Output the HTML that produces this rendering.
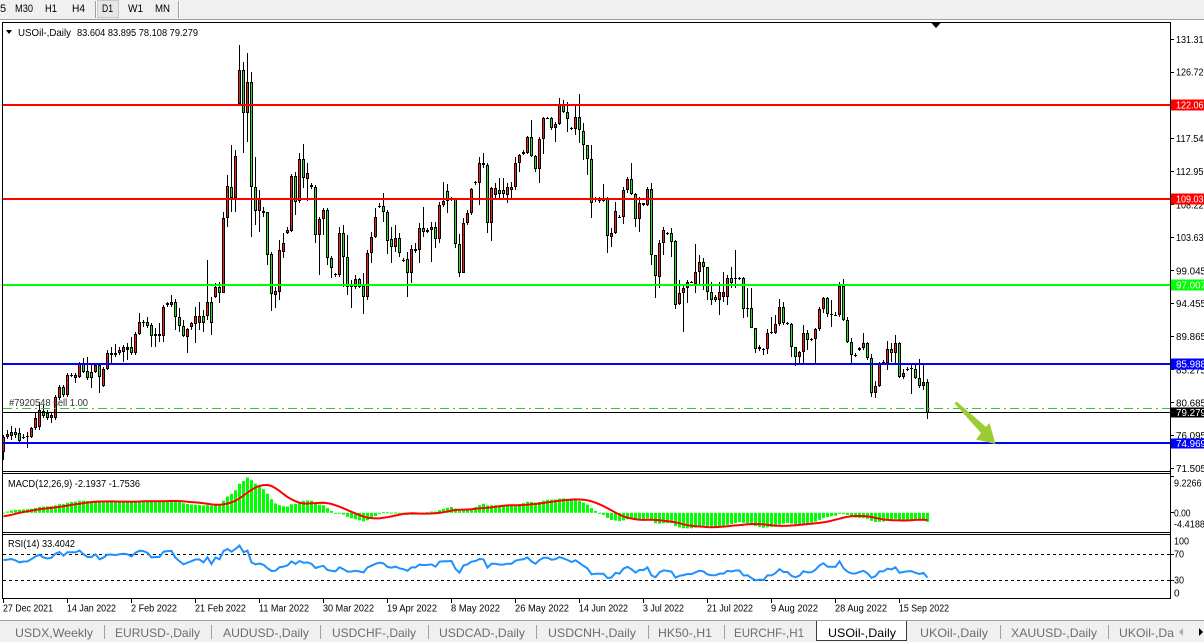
<!DOCTYPE html>
<html><head><meta charset="utf-8"><style>
html,body{margin:0;padding:0;background:#fff;}
body{width:1204px;height:642px;overflow:hidden;}
svg{display:block;font-family:"Liberation Sans",Arial,sans-serif;}
</style></head><body>
<svg id="s" width="1204" height="642" viewBox="0 0 1204 642" xmlns="http://www.w3.org/2000/svg">
<defs>
<clipPath id="cm"><rect x="3" y="474" width="1167" height="58"/></clipPath>
<clipPath id="cr"><rect x="3" y="535" width="1167" height="63"/></clipPath>
</defs>
<rect width="1204" height="642" fill="#fff"/>
<!-- toolbar -->
<rect x="0" y="0" width="1204" height="19" fill="#f0f0f0"/>
<line x1="0" y1="19.5" x2="1204" y2="19.5" stroke="#a0a0a0"/>
<line x1="95.5" y1="1" x2="95.5" y2="18" stroke="#a0a0a0"/>
<line x1="96.5" y1="1" x2="96.5" y2="18" stroke="#fff"/>
<line x1="178.5" y1="1" x2="178.5" y2="18" stroke="#a0a0a0"/>
<line x1="179.5" y1="1" x2="179.5" y2="18" stroke="#fff"/>
<rect x="97.5" y="0.5" width="21" height="17" fill="#e6e6e6" stroke="#c8c8c8"/>
<g font-size="11" fill="#000">
<text x="0" y="12">5</text>
<text x="15" y="12" textLength="18" lengthAdjust="spacingAndGlyphs">M30</text>
<text x="45" y="12" textLength="12" lengthAdjust="spacingAndGlyphs">H1</text>
<text x="72" y="12" textLength="13" lengthAdjust="spacingAndGlyphs">H4</text>
<text x="102" y="12" textLength="11" lengthAdjust="spacingAndGlyphs">D1</text>
<text x="128" y="12" textLength="15" lengthAdjust="spacingAndGlyphs">W1</text>
<text x="155" y="12" textLength="15" lengthAdjust="spacingAndGlyphs">MN</text>
</g>

<!-- frames -->
<g stroke="#000" stroke-width="1" shape-rendering="crispEdges">
<line x1="2" y1="22.5" x2="1170" y2="22.5"/>
<line x1="2.5" y1="22" x2="2.5" y2="599"/>
<line x1="1170.5" y1="22" x2="1170.5" y2="599"/>
<line x1="2" y1="471.5" x2="1170" y2="471.5"/>
<line x1="2" y1="473.5" x2="1170" y2="473.5"/>
<line x1="2" y1="532.5" x2="1170" y2="532.5"/>
<line x1="2" y1="534.5" x2="1170" y2="534.5"/>
<line x1="2" y1="598.5" x2="1171" y2="598.5"/>
</g>

<!-- candles -->
<g id="candles" shape-rendering="crispEdges"></g>

<!-- level lines -->
<g shape-rendering="crispEdges">
<rect x="3" y="104" width="1167" height="2" fill="#ff0000"/>
<rect x="3" y="198" width="1167" height="2" fill="#ff0000"/>
<rect x="3" y="284" width="1167" height="2" fill="#00ff00"/>
<rect x="3" y="363" width="1167" height="2" fill="#0000ff"/>
<rect x="3" y="442" width="1167" height="2" fill="#0000ff"/>
<rect x="3" y="412" width="1167" height="1" fill="#000"/>
<line x1="3" y1="408.5" x2="1170" y2="408.5" stroke="#2ecc2e" stroke-width="1" stroke-dasharray="9,4,2,4"/>
</g>
<text x="9" y="406" font-size="10" fill="#333" textLength="79" lengthAdjust="spacingAndGlyphs">#7920548 sell 1.00</text>

<!-- arrow -->
<polygon points="954.5,403.5 956.5,401.5 986,427 989.5,423 995.5,444 976,439.5 981,433" fill="#9acd32"/>

<!-- chart shift marker -->
<polygon points="930.5,22 941.5,22 936,28" fill="#000"/>

<!-- header -->
<polygon points="6,30 12,30 9,34" fill="#000"/>
<text x="18" y="36" font-size="10" fill="#000" textLength="53" lengthAdjust="spacingAndGlyphs">USOil-,Daily</text>
<text x="77" y="36" font-size="10" fill="#000" textLength="121" lengthAdjust="spacingAndGlyphs">83.604 83.895 78.108 79.279</text>

<!-- MACD / RSI -->
<g id="macd" clip-path="url(#cm)"></g>
<g clip-path="url(#cr)">
<line x1="3" y1="554.5" x2="1170" y2="554.5" stroke="#000" stroke-dasharray="3,3"/>
<line x1="3" y1="580.5" x2="1170" y2="580.5" stroke="#000" stroke-dasharray="3,3"/>
<g id="rsi"></g>
</g>
<text x="8" y="487" font-size="10" fill="#000" textLength="132" lengthAdjust="spacingAndGlyphs">MACD(12,26,9) -2.1937 -1.7536</text>
<text x="8" y="547" font-size="10" fill="#000" textLength="67" lengthAdjust="spacingAndGlyphs">RSI(14) 33.4042</text>

<!-- right axis ticks -->
<g stroke="#000" shape-rendering="crispEdges">
<line x1="1170" y1="39.5" x2="1174" y2="39.5"/>
<line x1="1170" y1="72.5" x2="1174" y2="72.5"/>
<line x1="1170" y1="105.5" x2="1174" y2="105.5"/>
<line x1="1170" y1="138.5" x2="1174" y2="138.5"/>
<line x1="1170" y1="171.5" x2="1174" y2="171.5"/>
<line x1="1170" y1="204.5" x2="1174" y2="204.5"/>
<line x1="1170" y1="237.5" x2="1174" y2="237.5"/>
<line x1="1170" y1="270.5" x2="1174" y2="270.5"/>
<line x1="1170" y1="303.5" x2="1174" y2="303.5"/>
<line x1="1170" y1="336.5" x2="1174" y2="336.5"/>
<line x1="1170" y1="369.5" x2="1174" y2="369.5"/>
<line x1="1170" y1="402.5" x2="1174" y2="402.5"/>
<line x1="1170" y1="435.5" x2="1174" y2="435.5"/>
<line x1="1170" y1="468.5" x2="1174" y2="468.5"/>
<line x1="1170" y1="476.5" x2="1174" y2="476.5"/>
<line x1="1170" y1="512.5" x2="1174" y2="512.5"/>
<line x1="1170" y1="554.5" x2="1174" y2="554.5"/>
<line x1="1170" y1="580.5" x2="1174" y2="580.5"/>
</g>
<g font-size="10" fill="#000">
<text x="1176" y="43" textLength="27.5" lengthAdjust="spacingAndGlyphs">131.31</text>
<text x="1176" y="75.5" textLength="27.5" lengthAdjust="spacingAndGlyphs">126.72</text>
<text x="1176" y="142" textLength="27.5" lengthAdjust="spacingAndGlyphs">117.54</text>
<text x="1176" y="175" textLength="27.5" lengthAdjust="spacingAndGlyphs">112.95</text>
<text x="1176" y="208.5" textLength="27.5" lengthAdjust="spacingAndGlyphs">108.22</text>
<text x="1176" y="241" textLength="27.5" lengthAdjust="spacingAndGlyphs">103.63</text>
<text x="1176" y="274.5" textLength="30" lengthAdjust="spacingAndGlyphs">99.045</text>
<text x="1176" y="307" textLength="30" lengthAdjust="spacingAndGlyphs">94.455</text>
<text x="1176" y="340" textLength="30" lengthAdjust="spacingAndGlyphs">89.865</text>
<text x="1176" y="373.5" textLength="30" lengthAdjust="spacingAndGlyphs">85.275</text>
<text x="1176" y="406.5" textLength="30" lengthAdjust="spacingAndGlyphs">80.685</text>
<text x="1176" y="439" textLength="30" lengthAdjust="spacingAndGlyphs">76.095</text>
<text x="1176" y="472" textLength="30" lengthAdjust="spacingAndGlyphs">71.505</text>
<text x="1174" y="486.5" textLength="27.5" lengthAdjust="spacingAndGlyphs">9.2266</text>
<text x="1174" y="516.5" textLength="16.5" lengthAdjust="spacingAndGlyphs">0.00</text>
<text x="1174" y="527.5" textLength="31" lengthAdjust="spacingAndGlyphs">-4.4188</text>
<text x="1174" y="544.5" textLength="15" lengthAdjust="spacingAndGlyphs">100</text>
<text x="1174" y="557.5" textLength="10" lengthAdjust="spacingAndGlyphs">70</text>
<text x="1174" y="583.5" textLength="10" lengthAdjust="spacingAndGlyphs">30</text>
<text x="1174" y="596.5">0</text>
</g>
<!-- coloured price labels -->
<g shape-rendering="crispEdges">
<rect x="1171" y="99.5" width="40" height="11" fill="#ff0000"/>
<rect x="1171" y="193.5" width="40" height="11" fill="#ff0000"/>
<rect x="1171" y="279.5" width="40" height="11" fill="#00ff00"/>
<rect x="1171" y="358.5" width="40" height="11" fill="#0000ff"/>
<rect x="1171" y="407.5" width="40" height="10" fill="#000"/>
<rect x="1171" y="438.5" width="40" height="10" fill="#0000ff"/>
</g>
<g font-size="10" fill="#fff">
<text x="1176" y="108.5" textLength="27.5" lengthAdjust="spacingAndGlyphs">122.06</text>
<text x="1176" y="202.5" textLength="27.5" lengthAdjust="spacingAndGlyphs">109.03</text>
<text x="1176" y="288.5" textLength="30" lengthAdjust="spacingAndGlyphs">97.007</text>
<text x="1176" y="367.5" textLength="30" lengthAdjust="spacingAndGlyphs">85.988</text>
<text x="1176" y="416" textLength="30" lengthAdjust="spacingAndGlyphs">79.279</text>
<text x="1176" y="447" textLength="30" lengthAdjust="spacingAndGlyphs">74.969</text>
</g>

<!-- time axis -->
<g stroke="#000" shape-rendering="crispEdges">
<line x1="3.5" y1="599" x2="3.5" y2="603"/>
<line x1="67.5" y1="599" x2="67.5" y2="603"/>
<line x1="131.5" y1="599" x2="131.5" y2="603"/>
<line x1="195.5" y1="599" x2="195.5" y2="603"/>
<line x1="259.5" y1="599" x2="259.5" y2="603"/>
<line x1="323.5" y1="599" x2="323.5" y2="603"/>
<line x1="387.5" y1="599" x2="387.5" y2="603"/>
<line x1="451.5" y1="599" x2="451.5" y2="603"/>
<line x1="515.5" y1="599" x2="515.5" y2="603"/>
<line x1="579.5" y1="599" x2="579.5" y2="603"/>
<line x1="643.5" y1="599" x2="643.5" y2="603"/>
<line x1="707.5" y1="599" x2="707.5" y2="603"/>
<line x1="771.5" y1="599" x2="771.5" y2="603"/>
<line x1="835.5" y1="599" x2="835.5" y2="603"/>
<line x1="899.5" y1="599" x2="899.5" y2="603"/>
</g>
<g font-size="10" fill="#000">
<text x="3" y="611.5" textLength="50" lengthAdjust="spacingAndGlyphs">27 Dec 2021</text>
<text x="67" y="611.5" textLength="49" lengthAdjust="spacingAndGlyphs">14 Jan 2022</text>
<text x="131" y="611.5" textLength="46" lengthAdjust="spacingAndGlyphs">2 Feb 2022</text>
<text x="195" y="611.5" textLength="51" lengthAdjust="spacingAndGlyphs">21 Feb 2022</text>
<text x="259" y="611.5" textLength="50" lengthAdjust="spacingAndGlyphs">11 Mar 2022</text>
<text x="323" y="611.5" textLength="51" lengthAdjust="spacingAndGlyphs">30 Mar 2022</text>
<text x="387" y="611.5" textLength="50" lengthAdjust="spacingAndGlyphs">19 Apr 2022</text>
<text x="451" y="611.5" textLength="49" lengthAdjust="spacingAndGlyphs">8 May 2022</text>
<text x="515" y="611.5" textLength="54" lengthAdjust="spacingAndGlyphs">26 May 2022</text>
<text x="579" y="611.5" textLength="49" lengthAdjust="spacingAndGlyphs">14 Jun 2022</text>
<text x="643" y="611.5" textLength="41" lengthAdjust="spacingAndGlyphs">3 Jul 2022</text>
<text x="707" y="611.5" textLength="46" lengthAdjust="spacingAndGlyphs">21 Jul 2022</text>
<text x="771" y="611.5" textLength="47" lengthAdjust="spacingAndGlyphs">9 Aug 2022</text>
<text x="835" y="611.5" textLength="52" lengthAdjust="spacingAndGlyphs">28 Aug 2022</text>
<text x="899" y="611.5" textLength="50" lengthAdjust="spacingAndGlyphs">15 Sep 2022</text>
</g>

<!-- tab bar -->
<rect x="0" y="620" width="1204" height="22" fill="#f0f0f0"/>
<line x1="0" y1="620.5" x2="1204" y2="620.5" stroke="#a0a0a0"/>
<path d="M816.5,621 V640.5 H906.5 V621" fill="#fff" stroke="#3c3c3c"/>
<g stroke="#a0a0a0" shape-rendering="crispEdges">
<line x1="104.5" y1="625" x2="104.5" y2="639"/>
<line x1="211.5" y1="625" x2="211.5" y2="639"/>
<line x1="320.5" y1="625" x2="320.5" y2="639"/>
<line x1="428.5" y1="625" x2="428.5" y2="639"/>
<line x1="536.5" y1="625" x2="536.5" y2="639"/>
<line x1="648.5" y1="625" x2="648.5" y2="639"/>
<line x1="724.5" y1="625" x2="724.5" y2="639"/>
<line x1="1000.5" y1="625" x2="1000.5" y2="639"/>
<line x1="1108.5" y1="625" x2="1108.5" y2="639"/>
</g>
<g font-size="12" fill="#6d6d6d">
<text x="15" y="637" textLength="78" lengthAdjust="spacingAndGlyphs">USDX,Weekly</text>
<text x="115" y="637" textLength="85" lengthAdjust="spacingAndGlyphs">EURUSD-,Daily</text>
<text x="223" y="637" textLength="86" lengthAdjust="spacingAndGlyphs">AUDUSD-,Daily</text>
<text x="332" y="637" textLength="84" lengthAdjust="spacingAndGlyphs">USDCHF-,Daily</text>
<text x="439" y="637" textLength="86" lengthAdjust="spacingAndGlyphs">USDCAD-,Daily</text>
<text x="548" y="637" textLength="88" lengthAdjust="spacingAndGlyphs">USDCNH-,Daily</text>
<text x="658" y="637" textLength="54" lengthAdjust="spacingAndGlyphs">HK50-,H1</text>
<text x="734" y="637" textLength="70" lengthAdjust="spacingAndGlyphs">EURCHF-,H1</text>
<text x="920" y="637" textLength="68" lengthAdjust="spacingAndGlyphs">UKOil-,Daily</text>
<text x="1011" y="637" textLength="86" lengthAdjust="spacingAndGlyphs">XAUUSD-,Daily</text>
<text x="1119" y="637" textLength="55" lengthAdjust="spacingAndGlyphs">UKOil-,Da</text>
</g>
<text x="828" y="637" font-size="12" fill="#000" textLength="68" lengthAdjust="spacingAndGlyphs">USOil-,Daily</text>
<polygon points="1183,628 1183,636 1179,632" fill="#b0b0b0"/>
<polygon points="1199,628 1199,636 1203,632" fill="#000"/>
</svg>
<script>
(function(){
var A=[[1220,1265,1215,1290,1],[1213,1222,1200,1228,1],[1205,1218,1188,1230,1],[1205,1216,1195,1225,0],[1210,1232,1195,1236,0],[1221,1223,1212,1228,2],[1219,1222,1205,1255,2],[1195,1222,1190,1225,1],[1165,1195,1150,1200,1],[1140,1192,1115,1200,1],
[1142,1158,1125,1165,0],[1150,1165,1140,1170,0],[1155,1165,1145,1180,1],[1100,1165,1095,1170,1],[1070,1105,1065,1110,1],[1070,1095,1065,1100,0],[1035,1095,1030,1100,1],[1034,1036,1030,1040,2],[1035,1045,1030,1058,1],[1000,1042,995,1045,1],
[1000,1025,985,1030,0],[1022,1045,980,1050,0],[1025,1045,1000,1075,0],[1005,1025,1000,1030,1],[1005,1042,1000,1090,0],[1018,1068,1010,1070,1],[970,1018,960,1020,1],[968,975,950,1000,1],[970,975,942,980,2],[960,968,950,975,1],
[952,965,945,995,1],[950,960,940,990,2],[950,968,920,975,0],[912,968,905,975,1],[875,912,850,915,1],[875,880,870,890,2],[875,888,860,895,0],[885,918,880,950,0],[912,918,895,950,1],[912,918,880,935,1],
[832,918,825,935,1],[820,826,815,830,1],[815,825,795,830,1],[815,862,808,900,0],[860,888,835,905,0],[888,918,870,920,0],[898,920,895,970,1],[880,892,875,900,1],[858,882,830,938,1],[858,880,815,900,1],
[858,880,840,905,0],[815,858,690,870,1],[815,878,800,915,0],[770,800,760,805,1],[770,790,755,820,0],[565,788,545,790,1],[468,565,435,590,1],[470,505,345,545,0],[378,505,360,545,1],[120,222,45,225,1],
[120,250,95,368,0],[155,250,70,335,1],[155,472,125,622,0],[472,542,380,585,0],[508,542,480,605,1],[542,550,530,560,0],[547,675,545,705,0],[672,792,665,842,0],[782,795,770,835,1],[660,785,630,810,1],
[638,665,610,685,1],[600,608,592,612,1],[437,602,432,605,1],[437,515,425,555,0],[388,512,370,520,1],[388,445,343,475,0],[430,447,398,512,1],[465,472,460,478,0],[470,615,465,640,0],[568,615,560,735,1],
[540,568,535,615,1],[540,685,535,705,0],[683,715,678,745,0],[732,736,728,740,2],[610,735,590,740,1],[610,680,585,770,0],[680,770,615,795,0],[765,772,750,835,1],[748,770,735,778,1],[748,770,745,775,0],
[768,800,730,852,0],[670,802,660,810,1],[622,670,605,700,1],[562,622,535,625,1],[527,529,520,535,2],[528,545,490,575,0],[545,632,540,672,0],[628,652,590,700,0],[625,652,585,665,1],[625,668,610,680,0],
[689,691,685,695,2],[688,730,665,800,0],[658,730,645,760,1],[658,662,640,670,1],[595,660,580,700,1],[595,605,530,620,0],[600,605,595,608,1],[590,600,575,695,1],[590,628,575,655,0],[525,628,515,640,1],
[512,525,455,530,1],[482,512,462,548,0],[507,509,500,512,2],[508,642,505,655,0],[642,728,612,740,0],[578,728,565,730,1],[548,578,540,585,1],[478,548,475,555,1],[457,459,452,465,2],[400,458,380,525,1]];
var B=[[248,256,218,265,0],[255,430,250,460,0],[325,430,320,482,1],[325,345,310,360,1],[330,343,295,355,0],[330,343,295,355,0],[322,345,310,368,1],[322,330,305,355,1],[250,322,230,330,1],[225,250,222,275,1],
[215,222,210,225,1],[170,218,168,222,1],[170,228,120,232,0],[228,268,225,275,0],[178,268,170,310,1],[115,178,112,222,1],[113,115,110,118,2],[115,145,112,150,0],[133,145,125,185,1],[75,133,55,135,1],
[75,95,60,100,0],[95,118,65,155,0],[145,148,140,150,2],[110,148,78,165,1],[110,150,42,190,0],[152,195,130,240,0],[195,238,195,285,0],[238,370,195,415,0],[355,360,350,365,2],[360,362,352,368,2],
[360,362,312,365,2],[355,468,350,520,0],[458,470,445,500,1],[392,458,365,462,1],[410,413,405,415,1],[330,412,322,432,1],[298,330,290,340,1],[298,342,250,345,0],[342,418,340,440,0],[370,418,352,455,1],
[370,375,368,378,0],[328,375,322,378,1],[328,525,308,555,0],[525,588,525,655,0],[490,590,480,625,1],[450,490,440,525,1],[458,462,455,465,0],[458,485,445,532,0],[483,675,480,688,0],[640,673,600,675,1],
[625,640,615,755,1],[605,625,600,668,1],[605,607,603,610,2],[575,612,492,638,1],[545,575,525,615,1],[545,562,535,630,0],[562,635,560,660,0],[635,660,605,675,0],[650,660,645,665,0],[635,660,605,705,1],
[635,650,575,665,1],[595,650,585,675,1],[595,608,560,625,0],[594,596,510,625,2],[594,596,590,600,2],[595,688,590,715,0],[684,686,625,712,2],[685,745,625,745,0],[745,808,745,820,0],[800,808,795,812,1],
[808,810,805,825,2],[758,808,748,822,1],[757,759,712,762,2],[732,758,705,762,1],[682,732,658,738,1],[682,730,665,735,0],[729,731,725,735,2],[732,802,728,830,0],[802,832,800,858,0],[815,832,812,855,1],
[760,815,735,848,1],[760,780,750,810,0],[778,780,775,782,2],[748,778,745,850,1],[688,748,680,752,1],[655,688,650,700,1],[655,702,650,710,0],[702,705,660,742,2],[704,706,695,708,2],[618,705,605,710,1],
[618,720,598,722,0],[720,785,712,790,0],[785,825,775,850,0],[825,828,820,832,2],[805,810,800,812,1],[790,805,760,810,1],[790,835,785,840,0],[835,938,822,950,0],[918,938,902,955,1],[848,918,845,920,1],
[845,848,840,852,2],[808,848,782,870,1],[808,820,790,845,0],[788,820,765,850,1],[788,890,785,895,0],[878,890,868,898,1],[866,868,862,872,2],[865,867,855,942,2],[866,895,855,898,0],[895,918,838,925,0],
[905,918,855,930,1],[905,1000,898,1018,0]];
var bars=[];
A.forEach(function(b,k){bars.push({i:k,t:30+b[0]/3,b:30+b[1]/3,h:30+b[2]/3,l:30+b[3]/3,c:b[4]});});
B.forEach(function(b,k){bars.push({i:231-(B.length-1-k),t:80+b[0]/3,b:80+b[1]/3,h:80+b[2]/3,l:80+b[3]/3,c:b[4]});});
function P(y){return 131.31-(y-39.5)/7.17;}
var s='';
bars.forEach(function(d){
  var x=3+4*d.i;
  var h=Math.round(d.h),l=Math.round(d.l),t=Math.round(d.t),bo=Math.round(d.b);
  s+='<rect x="'+x+'" y="'+h+'" width="1" height="'+Math.max(1,l-h)+'" fill="#000"/>';
  var bh=Math.max(1,bo-t);
  s+='<rect x="'+(x-1)+'" y="'+t+'" width="3" height="'+bh+'" fill="#000"/>';
  if(bh>2&&d.c!=2){s+='<rect x="'+x+'" y="'+(t+1)+'" width="1" height="'+(bh-2)+'" fill="'+(d.c==1?'#ff1a1a':'#1ee61e')+'"/>';}
});
document.getElementById('candles').innerHTML=s;
var warm=[75,76,77,78,79,80,81,81.5,82,82.5,83,83.5,83.8,84,83.5,83,82.5,82,82.5,83,82.5,81.5,81,80.5,81,80.5,79,78.5,79,78.5,78,77,76.5,77,78.4,78.2,68.2,70,66.2,65.6,66.5,66.3,66.5,69.5,72,72.4,70.9,71.7,71.5,71.3,70.7,71,72.4,70.9,69.5,68.6,71.1,72.8,73.8,73.8,73.9];
var cl=warm.slice();
bars.forEach(function(d){var c=d.c==1?d.t:(d.c==0?d.b:(d.t+d.b)/2);cl.push(P(c));});
var n=cl.length,W=warm.length;
var ef=[],es=[],m=[],sg=[];
for(var i=0;i<n;i++){
  ef[i]=i?cl[i]*2/13+ef[i-1]*(11/13):cl[0];
  es[i]=i?cl[i]*2/27+es[i-1]*(25/27):cl[0];
  m[i]=ef[i]-es[i];
  if(i>=8){var a=0;for(var j=i-8;j<=i;j++)a+=m[j];sg[i]=a/9;}else sg[i]=m[i];
}
function my(v){return 512.8-v*4.1;}
var hs='',pts=[];
for(var i=W;i<n;i++){
  var x=3+4*(i-W);
  var y0=512.8,y1=my(m[i]);
  var top=Math.min(y0,y1),ht=Math.max(1,Math.abs(y1-y0));
  hs+='<rect x="'+(x-1)+'" y="'+top.toFixed(1)+'" width="3" height="'+ht.toFixed(1)+'" fill="#00ff00"/>';
  pts.push((x+0.5)+','+my(sg[i]).toFixed(1));
}
hs+='<polyline points="'+pts.join(' ')+'" fill="none" stroke="#ff0000" stroke-width="2"/>';
document.getElementById('macd').innerHTML=hs;
// RSI
var rs=[],ag=0,al=0,P2=14;
for(var i=1;i<=P2;i++){var d=cl[i]-cl[i-1];if(d>0)ag+=d;else al-=d;}
ag/=P2;al/=P2;
for(var i=P2+1;i<n;i++){
  var d=cl[i]-cl[i-1];
  ag=(ag*(P2-1)+(d>0?d:0))/P2;
  al=(al*(P2-1)+(d<0?-d:0))/P2;
  rs[i]=al==0?100:100-100/(1+ag/al);
}
var rp=[];
for(var i=W;i<n;i++){var x=3+4*(i-W);rp.push((x+0.5)+','+(598-rs[i]*0.62).toFixed(1));}
document.getElementById('rsi').innerHTML='<polyline points="'+rp.join(' ')+'" fill="none" stroke="#1e90ff" stroke-width="2"/>';
})();
</script>
</body></html>
